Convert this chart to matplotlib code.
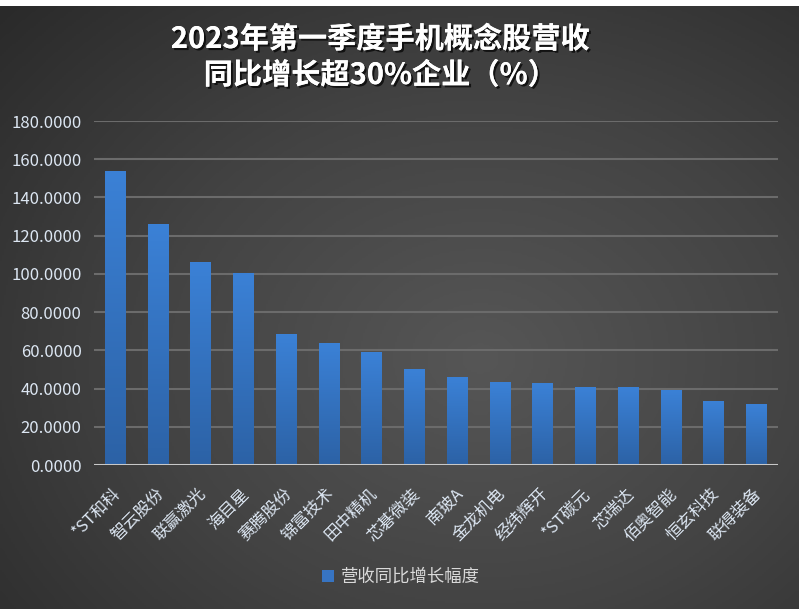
import matplotlib
matplotlib.use('Agg')
import matplotlib.pyplot as plt
import matplotlib.patheffects as pe
import matplotlib.transforms as mtransforms
from matplotlib.colors import LinearSegmentedColormap
import numpy as np

plt.rcParams['font.family'] = ['Noto Sans CJK SC', 'DejaVu Sans']

# data
companies = ['*ST和科', '智云股份', '联赢激光', '海目星', '赛腾股份', '锦富技术',
             '田中精机', '芯碁微装', '南玻A', '金龙机电', '经纬辉开', '*ST碳元',
             '芯瑞达', '佰奥智能', '恒玄科技', '联得装备']
growth = [153.9, 126.1, 106.2, 100.5, 68.5, 63.8, 59.1, 50.2,
          46.0, 43.4, 42.9, 40.8, 40.7, 39.2, 33.5, 31.9]
y_ticks = [0, 20, 40, 60, 80, 100, 120, 140, 160, 180]
series_name = '营收同比增长幅度'
title = '2023年第一季度手机概念股营收\n同比增长超30%企业（%）'

W, H = 801, 609
fig = plt.figure(figsize=(W / 100, H / 100), dpi=100, facecolor='white')

# dark radial background panel
bg = fig.add_axes([0, 0, 799 / W, 1 - 6 / H], zorder=-10)
yy, xx = np.mgrid[0:300, 0:400]
r = np.sqrt(((xx - 240) / 330) ** 2 + ((yy - 175) / 260) ** 2)
bg_cmap = LinearSegmentedColormap.from_list('bg', ['#565656', '#434343', '#2a2a2a'])
bg.imshow(np.clip(r, 0, 1), cmap=bg_cmap, aspect='auto', extent=[0, 1, 0, 1])
bg.set_axis_off()

ax = fig.add_axes([94 / W, 1 - 465 / H, (778 - 94) / W, (465 - 121) / H])
ax.set_facecolor('none')

x = np.arange(len(companies))
bars = ax.bar(x, growth, width=0.49, color='#3774c2', zorder=3, label=series_name)

# vertical gradient on each bar
bar_cmap = LinearSegmentedColormap.from_list('bar', ['#2c62a6', '#3b81d6'])
grad = np.linspace(0, 1, 100).reshape(-1, 1)
for b in bars:
    x0, w, h = b.get_x(), b.get_width(), b.get_height()
    im = ax.imshow(grad, cmap=bar_cmap, origin='lower', aspect='auto',
                   extent=[x0, x0 + w, 0, h], zorder=4)
    im.set_clip_path(b)

ax.set_xlim(-0.5, len(companies) - 0.5)
ax.set_ylim(0, 180)
ax.set_yticks(y_ticks)
ax.set_yticklabels([f'{v:.4f}' for v in y_ticks])
ax.grid(axis='y', color='#6b6b6b', linewidth=1.5, zorder=1)
ax.axhline(0, color='#c8c8c8', linewidth=2.2, zorder=5)
for s in ax.spines.values():
    s.set_visible(False)

ax.tick_params(axis='y', length=0, pad=9, labelsize=12, labelcolor='#dce6f2')
ax.tick_params(axis='x', length=0, pad=19, labelsize=12, labelcolor='#dce6f2')
ax.set_xticks(x)
ax.set_xticklabels(companies, rotation=45, ha='right', va='center',
                   rotation_mode='anchor')
offset = mtransforms.ScaledTranslation(2 / 72, 0, fig.dpi_scale_trans)
for lbl in ax.get_xticklabels():
    lbl.set_transform(lbl.get_transform() + offset)

shadow = [pe.withSimplePatchShadow(offset=(1.5, -1.5), shadow_rgbFace='black', alpha=0.7),
          pe.Normal()]
fig.text(380 / W, 1 - 57 / H, title, ha='center', va='center', color='white',
         fontsize=21, fontweight='bold', linespacing=1.25, path_effects=shadow)

leg = fig.legend(handles=[bars], labels=[series_name], loc='center',
                 bbox_to_anchor=(401 / W, 1 - 577 / H), frameon=False,
                 handlelength=0.7, handleheight=0.7, handletextpad=0.4,
                 fontsize=12.5)
for t in leg.get_texts():
    t.set_color('#d9d9d9')

fig.savefig('out.png', dpi=100, facecolor='white')
